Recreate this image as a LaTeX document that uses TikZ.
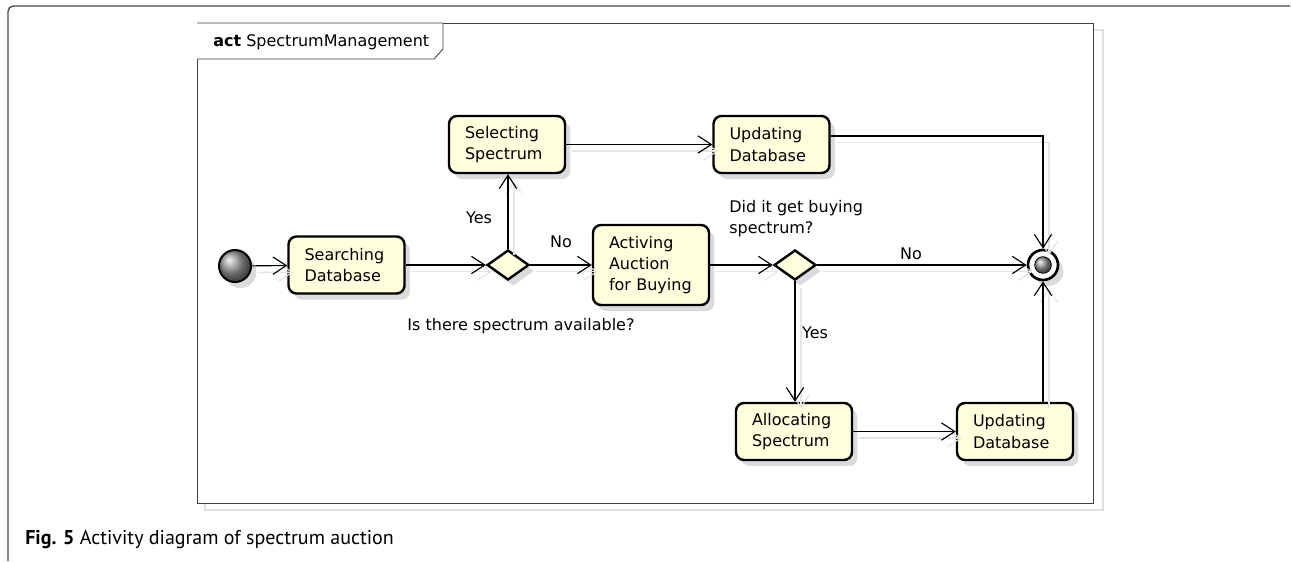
\documentclass[tikz,border=0pt]{standalone}
\usepackage{fontspec}
\setmainfont{DejaVu Sans}
\newfontfamily\capfont{PT Sans}
\usetikzlibrary{arrows.meta,shapes.geometric,shadows}
\definecolor{boxfill}{RGB}{255,255,222}
\definecolor{framegray}{RGB}{70,70,70}
\begin{document}
\begin{tikzpicture}[x=0.75pt,y=-0.75pt,
  font=\fontsize{12}{16}\selectfont,
  shad/.style={drop shadow={shadow xshift=4pt, shadow yshift=-4.5pt, fill=black!14, opacity=1}},
  actbox/.style={draw=black, line width=1.8pt, rounded corners=6pt, fill=boxfill,
    align=left, text width=63pt, inner xsep=12pt, inner ysep=0pt, minimum height=42.75pt, shad},
  decbox/.style={diamond, draw=black, line width=1.8pt, fill=boxfill,
    minimum width=31.5pt, minimum height=22.5pt, inner sep=0pt, shad},
  flow/.style={draw=black, line width=0.85pt,
    -{Straight Barb[length=10pt,width=13pt,line width=0.85pt]},
    preaction={draw=black!10, line width=1.1pt, transform canvas={shift={(4.5pt,-5pt)}}}},
  lbl/.style={inner sep=0pt}
]
\useasboundingbox (0,0) rectangle (1291,561);
% outer page frame
\draw[framegray, line width=1pt, rounded corners=4pt] (8,561) -- (8,6) -- (1290,6);
% diagram frame
\draw[black!12, line width=1pt] (205,30) rectangle (1103,510);
\draw[black!75, line width=0.65pt, fill=white] (197,23) rectangle (1093,503);
\draw[black!75, line width=0.65pt, fill=white] (197,23) -- (443,23) -- (443,49) -- (434,59) -- (197,59);
\node[lbl, anchor=west] (title) at (213,42) {\textbf{act} SpectrumManagement};

% nodes
\node[circle, draw=black, line width=1.5pt, minimum size=24pt, inner sep=0pt, ball color=gray!80, shad] (init) at (235,266) {};
\node[actbox] (search) at (346.5,265) {Searching\\Database};
\node[decbox] (d1) at (508,265) {};
\node[actbox] (select) at (507,144.5) {Selecting\\Spectrum};
\node[actbox] (upd1) at (771.5,144.5) {Updating\\Database};
\node[actbox, minimum height=60pt] (activ) at (651,265) {Activing\\Auction\\for Buying};
\node[decbox] (d2) at (795,265) {};
\node[circle, draw=black, line width=2pt, minimum size=22.5pt, inner sep=0pt, fill=white, shad] (final) at (1043,265) {};
\node[circle, draw=black, line width=0.6pt, minimum size=12.5pt, inner sep=0pt, ball color=gray!80] (finalin) at (final.center) {};
\node[actbox] (alloc) at (794,431.5) {Allocating\\Spectrum};
\node[actbox] (upd2) at (1015,431.5) {Updating\\Database};

% connectors
\draw[flow] (init) -- (search);
\draw[flow] (search) -- (d1);
\draw[flow] (d1.north) -- (d1.north |- select.south);
\draw[flow] (d1) -- (activ);
\draw[flow] (select) -- (upd1);
\draw[flow] ([yshift=6.4pt]upd1.east) -| (final.north);
\draw[flow] (activ) -- (d2);
\draw[flow] (d2) -- (final);
\draw[flow] (d2.south) -- (d2.south |- alloc.north);
\draw[flow] (alloc) -- (upd2);
\draw[flow] (upd2.north -| final) -- (final.south);

% labels
\node[lbl] (yes1) at (479,218) {Yes};
\node[lbl] (no1) at (561,242) {No};
\node[lbl] (q1) at (521,326) {Is there spectrum available?};
\node[lbl, align=left, anchor=north west] (q2) at (729,200) {Did it get buying\\spectrum?};
\node[lbl] (no2) at (911,254) {No};
\node[lbl] (yes2) at (815,333) {Yes};

% caption
\node[lbl, anchor=west, font=\capfont\fontsize{15}{17}\selectfont] (cap) at (25,539) {\textbf{Fig. 5} Activity diagram of spectrum auction};
\end{tikzpicture}
\end{document}
